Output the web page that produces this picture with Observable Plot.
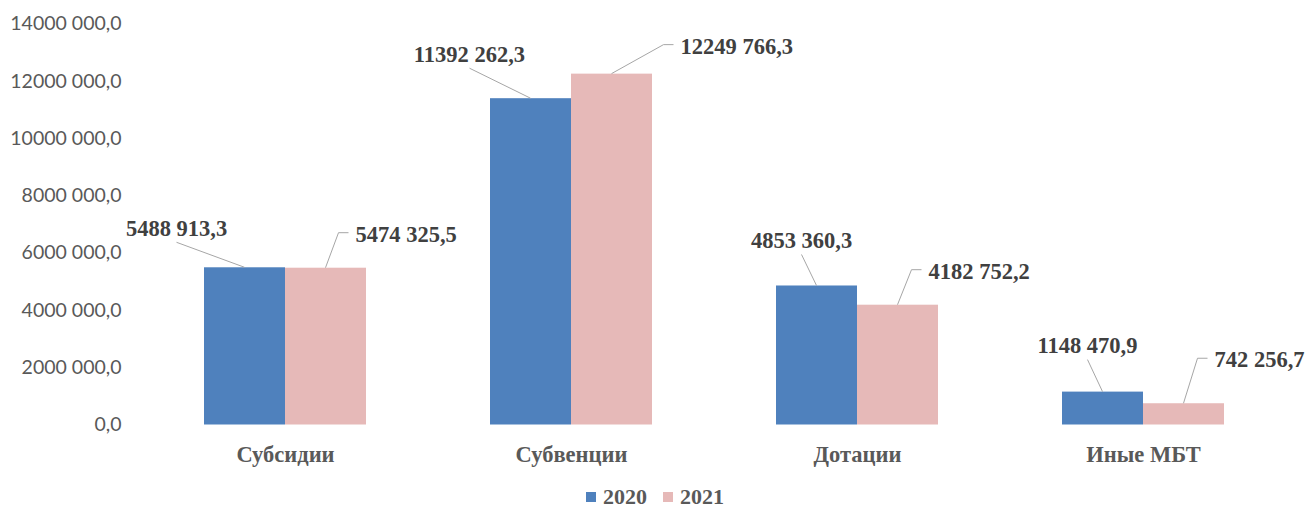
<!DOCTYPE html>
<html>
<head>
<meta charset="utf-8">
<script src="https://cdn.jsdelivr.net/npm/d3@7"></script>
<script src="https://cdn.jsdelivr.net/npm/@observablehq/plot@0.6"></script>
<style>
  html, body { margin: 0; padding: 0; background: #fff; }
  #chart { width: 1310px; height: 476px; }
  #chart svg { display: block; }
  #legend {
    width: 1310px; height: 22px; padding-top: 10px; display: flex; justify-content: center; align-items: center;
    font-family: "Liberation Serif", serif; font-weight: bold; font-size: 22px; line-height: 22px; color: #595959;
  }
  #legend .sw { width: 10px; height: 10px; display: inline-block; margin-right: 7px; }
  #legend .item { display: flex; align-items: center; margin: 0 8px; }
</style>
</head>
<body>
<div id="chart"></div>
<div id="legend"></div>
<script>
// ---- data ----
const categories = ["Субсидии", "Субвенции", "Дотации", "Иные МБТ"];
const years = ["2020", "2021"];
const values2020 = [5488913.3, 11392262.3, 4853360.3, 1148470.9];
const values2021 = [5474325.5, 12249766.3, 4182752.2, 742256.7];
const yTicks = [0, 2000000, 4000000, 6000000, 8000000, 10000000, 12000000, 14000000];

// ---- style ----
const colors = ["#4F81BD", "#E6B9B8"];
// leader-line offsets (px) relative to bar top centre
const leader2020 = [[-68, -25], [-61, -30], [-15, -31], [-15, -32]];
const leader2021 = [[13, -35], [52, -29], [14, -35], [14, -45]];

function fmt(v) {
  const s = Math.abs(v).toFixed(1);
  let [int, dec] = s.split(".");
  if (int.length > 3) int = int.slice(0, -3) + " " + int.slice(-3);
  return int + "," + dec;
}

const rows = categories.flatMap((c, k) => [
  {cat: c, year: years[0], value: values2020[k], k},
  {cat: c, year: years[1], value: values2021[k], k}
]);

const chart = Plot.plot({
  width: 1310,
  height: 476,
  marginLeft: 141,
  marginRight: 23,
  marginTop: 23.5,
  marginBottom: 51.5,
  fx: {domain: categories, padding: 0, label: null},
  x: {domain: years, paddingInner: 0, paddingOuter: 0.748, axis: null},
  y: {domain: [0, 14000000], label: null},
  color: {domain: years, range: colors},
  style: {background: "white"},
  marks: [
    Plot.barY(rows, {fx: "cat", x: "year", y: "value", fill: "year"}),
    Plot.axisY({ticks: yTicks, tickFormat: fmt, tickSize: 0, tickPadding: 21,
      fontSize: 19.5, fontFamily: "Lato", color: "#595959", label: null}),
    Plot.axisFx({anchor: "bottom", tickSize: 0, tickPadding: 21, fontSize: 22.5,
      fontWeight: "bold", fontFamily: "Liberation Serif", color: "#595959", label: null}),
    Plot.text(rows, {
      fx: "cat", x: "year", y: "value", text: d => fmt(d.value),
      render(index, scales, values) {
        const g = d3.create("svg:g");
        const bw = scales.x && scales.x.bandwidth ? scales.x.bandwidth() / 2 : 0;
        for (const i of index) {
          const d = rows[i];
          const cx = values.x[i] + bw, cy = values.y[i];
          let path, tx, ty, anchor;
          if (d.year === years[0]) {
            const [ox, oy] = leader2020[d.k];
            path = `M${cx},${cy}L${cx + ox},${cy + oy}`;
            tx = cx + ox; ty = cy + oy - 14; anchor = "middle";
          } else {
            const [ox, oy] = leader2021[d.k];
            path = `M${cx},${cy}L${cx + ox},${cy + oy}L${cx + ox + 10},${cy + oy}`;
            tx = cx + ox + 17; ty = cy + oy + 1; anchor = "start";
          }
          g.append("path").attr("d", path).attr("fill", "none")
            .attr("stroke", "#A6A6A6").attr("stroke-width", 1);
          g.append("text").attr("x", tx).attr("y", ty).attr("dy", "0.35em")
            .attr("text-anchor", anchor)
            .attr("font-family", "Liberation Serif").attr("font-weight", "bold")
            .attr("font-size", 22.5).attr("fill", "#404040")
            .text(values.text ? values.text[i] : fmt(d.value));
        }
        return g.node();
      }
    })
  ]
});
document.getElementById("chart").appendChild(chart);

const legend = document.getElementById("legend");
years.forEach((y, i) => {
  const item = document.createElement("span");
  item.className = "item";
  const sw = document.createElement("span");
  sw.className = "sw";
  sw.style.background = colors[i];
  item.appendChild(sw);
  item.appendChild(document.createTextNode(y));
  legend.appendChild(item);
});
</script>
</body>
</html>
